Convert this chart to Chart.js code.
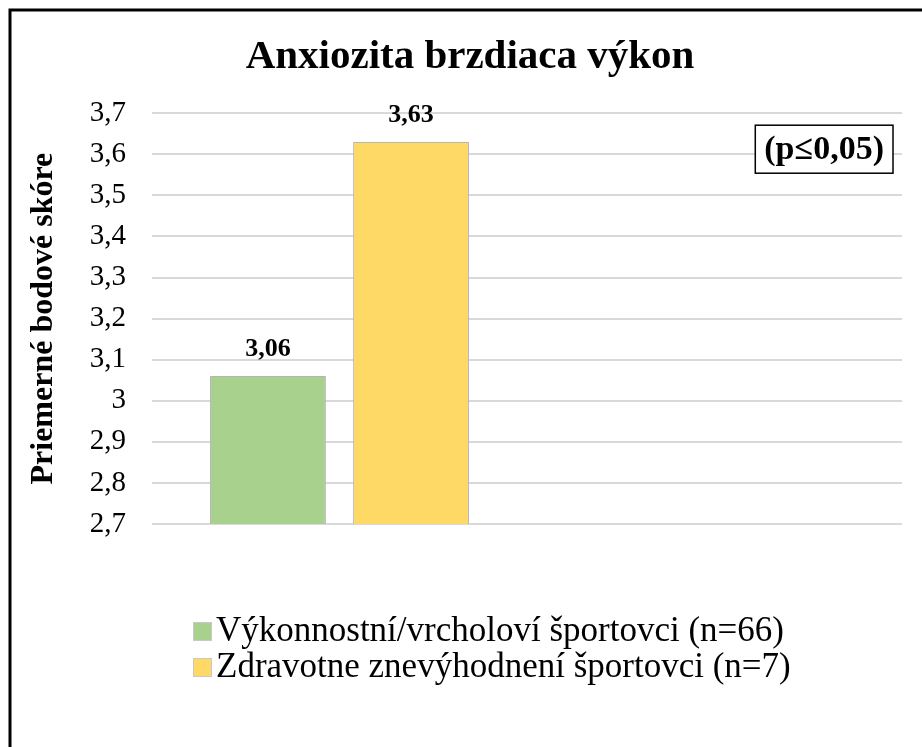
<!DOCTYPE html>
<html>
<head>
<meta charset="utf-8">
<script src="https://cdn.jsdelivr.net/npm/chart.js@4"></script>
<style>
  html, body { margin: 0; padding: 0; background: #fff; }
  #wrap { width: 922px; height: 747px; }
</style>
</head>
<body>
<div id="wrap"><canvas id="chart" width="922" height="747"></canvas></div>
<script>
// values
const chartTitle = 'Anxiozita brzdiaca výkon';
const yTitle = 'Priemerné bodové skóre';
const categories = ['', ''];
const seriesNames = ['Výkonnostní/vrcholoví športovci (n=66)', 'Zdravotne znevýhodnení športovci (n=7)'];
const eliteValues = [3.06, null];
const disabledValues = [3.63, null];
const seriesColors = ['#A9D18E', '#FFD966'];
const tickValues = [2.7, 2.8, 2.9, 3.0, 3.1, 3.2, 3.3, 3.4, 3.5, 3.6, 3.7];
const noteText = '(p≤0,05)';

const SERIF = "'Liberation Serif', 'Times New Roman', serif";

// slovak decimal comma, Excel "general" style (3 stays 3)
function fmt(v) {
    return String(Number(v.toFixed(2))).replace('.', ',');
}

// frame: only top and left edge are visible in the picture
const framePlugin = {
    id: 'frame',
    beforeDraw(chart) {
        const ctx = chart.ctx;
        ctx.save();
        ctx.strokeStyle = '#000';
        ctx.lineWidth = 3;
        ctx.beginPath();
        ctx.moveTo(10, chart.height);
        ctx.lineTo(10, 10);
        ctx.lineTo(chart.width, 10);
        ctx.stroke();
        ctx.restore();
    }
};

// title is centred a bit right of the canvas middle
const titleShift = {
    id: 'titleShift',
    afterLayout(chart) {
        const t = chart.titleBlock;
        if (!t) return;
        t.left += 19;
        t.right += 19;
    }
};

// value labels above bars
const valueLabels = {
    id: 'valueLabels',
    afterDatasetsDraw(chart) {
        const ctx = chart.ctx;
        ctx.save();
        ctx.font = 'bold 26px ' + SERIF;
        ctx.fillStyle = '#000';
        ctx.textAlign = 'center';
        ctx.textBaseline = 'middle';
        chart.data.datasets.forEach((ds, i) => {
            const meta = chart.getDatasetMeta(i);
            meta.data.forEach((bar, j) => {
                const v = ds.data[j];
                if (v === null || v === undefined) return;
                ctx.fillText(fmt(v), bar.x, bar.y - 27);
            });
        });
        ctx.restore();
    }
};

// boxed significance note, top right of plot
const noteBox = {
    id: 'noteBox',
    afterDraw(chart) {
        const ctx = chart.ctx;
        const area = chart.chartArea;
        ctx.save();
        ctx.font = 'bold 34px ' + SERIF;
        const tw = ctx.measureText(noteText).width;
        const w = tw + 18, h = 48;
        const x = area.right - 9 - w;
        const y = area.top + 12;
        ctx.fillStyle = '#fff';
        ctx.fillRect(x, y, w, h);
        ctx.strokeStyle = '#000';
        ctx.lineWidth = 1.5;
        ctx.strokeRect(x, y, w, h);
        ctx.fillStyle = '#000';
        ctx.textAlign = 'center';
        ctx.textBaseline = 'middle';
        ctx.fillText(noteText, x + w / 2, y + h / 2 + 1);
        ctx.restore();
    }
};

// two-row legend, left aligned under the plot
const stackedLegend = {
    id: 'stackedLegend',
    afterDraw(chart) {
        const ctx = chart.ctx;
        const area = chart.chartArea;
        ctx.save();
        ctx.font = '35px ' + SERIF;
        ctx.textAlign = 'left';
        ctx.textBaseline = 'middle';
        chart.data.datasets.forEach((ds, i) => {
            const yc = area.bottom + 107 + i * 36;
            ctx.fillStyle = ds.backgroundColor;
            ctx.fillRect(193, yc - 9, 19, 19);
            ctx.strokeStyle = '#c8c8c8';
            ctx.lineWidth = 1;
            ctx.strokeRect(193.5, yc - 8.5, 18, 18);
            ctx.fillStyle = '#000';
            ctx.fillText(ds.label, 216, yc + 1);
        });
        ctx.restore();
    }
};

const ctx = document.getElementById('chart');
new Chart(ctx, {
    type: 'bar',
    data: {
        labels: categories,
        datasets: [
            {
                label: seriesNames[0],
                data: eliteValues,
                backgroundColor: seriesColors[0],
                borderColor: '#b5b5b5',
                borderWidth: 1
            },
            {
                label: seriesNames[1],
                data: disabledValues,
                backgroundColor: seriesColors[1],
                borderColor: '#b5b5b5',
                borderWidth: 1
            }
        ]
    },
    options: {
        responsive: false,
        animation: false,
        categoryPercentage: 0.763,
        barPercentage: 0.81,
        layout: {
            padding: { left: 0, right: 20, top: 0, bottom: 0 }
        },
        plugins: {
            title: {
                display: true,
                text: chartTitle,
                color: '#000',
                font: { family: SERIF, size: 41, weight: 'bold' },
                padding: { top: 33, bottom: 31 }
            },
            legend: { display: false },
            tooltip: { enabled: false }
        },
        scales: {
            x: {
                grid: { display: false },
                border: { display: false },
                ticks: { display: false },
                afterFit(scale) { scale.height = 223; }
            },
            y: {
                min: 2.7,
                max: 3.7,
                afterBuildTicks(scale) {
                    scale.ticks = tickValues.map(v => ({ value: v }));
                },
                afterFit(scale) { scale.width = 152; },
                grid: {
                    color: '#d9d9d9',
                    lineWidth: 2,
                    drawTicks: false
                },
                border: { display: false },
                ticks: {
                    color: '#000',
                    padding: 26,
                    font: { family: SERIF, size: 29 },
                    callback: v => fmt(v)
                },
                title: {
                    display: true,
                    text: yTitle,
                    color: '#000',
                    font: { family: SERIF, size: 32, weight: 'bold' },
                    padding: { top: 25, bottom: 0 }
                }
            }
        }
    },
    plugins: [framePlugin, titleShift, valueLabels, noteBox, stackedLegend]
});
</script>
</body>
</html>
